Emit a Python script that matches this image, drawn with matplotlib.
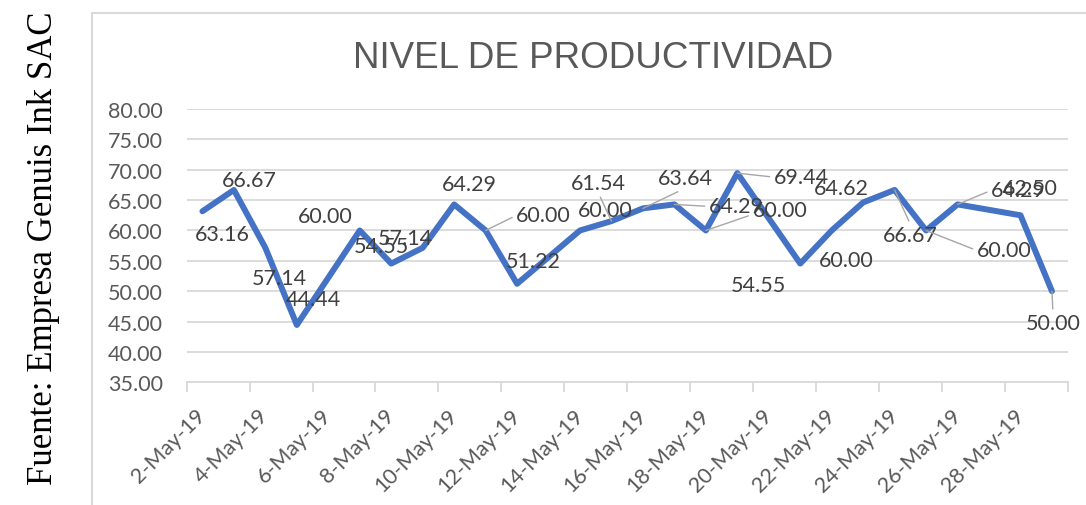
import numpy as np
import pandas as pd
import matplotlib
matplotlib.use("Agg")
import matplotlib.pyplot as plt
from matplotlib.lines import Line2D

# daily productivity, 2-May-19 .. 29-May-19 (blank days are NaN, line connects over them)
dates = pd.date_range("2019-05-02", "2019-05-29", freq="D")
values = [63.16, 66.67, 57.14, 44.44, np.nan, 60.00, 54.55, 57.14,
          64.29, 60.00, 51.22, np.nan, 60.00, 61.54, 63.64, 64.29,
          60.00, 69.44, np.nan, 54.55, 60.00, 64.62, 66.67, 60.00,
          64.29, np.nan, 62.50, 50.00]
tick_labels = [f"{d.day}-May-19" for d in dates]

# where Excel left each data label (offset in pixels from its point) and leader line
label_off = {0: (20, -23), 1: (15, 10), 2: (14, -30), 3: (17, 26),
             5: (-35, 14), 6: (-10, 18), 7: (-17, 10), 8: (15, 20),
             9: (58, 15), 10: (16, 23), 12: (25, 20), 13: (-13, 38),
             14: (42, 30), 15: (62, -2), 16: (74, 20), 17: (64, -4),
             19: (-42, -21), 20: (15, -30), 21: (-22, 14), 22: (16, -45),
             23: (78, -20), 24: (61, 14), 26: (10, 27), 27: (1, -32)}
leaders = {9: (0, 0.5), 13: (0.5, 0), 14: (0.5, 0), 15: (0, 0.5),
           16: (0, 0.3), 17: (0, 0.5), 22: (0.5, 1), 23: (0, 0.5),
           24: (0, 0.5), 27: (0.5, 1)}

blue = "#4472C4"
grey_txt = "#595959"
lab_txt = "#404040"
grid_c = "#D9D9D9"
sans = ["Lato", "DejaVu Sans"]
fs = 15.5

fig = plt.figure(figsize=(10.86, 5.06), dpi=100)
ax = fig.add_axes([186.7 / 1086, 1 - 383.3 / 506, 881 / 1086, 273.3 / 506])

x = np.arange(len(dates))
y = np.array(values, dtype=float)
ok = ~np.isnan(y)
ax.plot(x[ok], y[ok], color=blue, lw=4.3, solid_joinstyle="round",
        solid_capstyle="round", zorder=3)

for i, (dx, dy) in label_off.items():
    kw = {}
    if i in leaders:
        kw["arrowprops"] = dict(arrowstyle="-", color="#A6A6A6", lw=1,
                                shrinkA=1, shrinkB=0, relpos=leaders[i])
    ax.annotate(f"{values[i]:.2f}", (x[i], y[i]), xytext=(dx, dy),
                textcoords="offset pixels", ha="center", va="center",
                fontsize=fs, color=lab_txt, family=sans, zorder=4, **kw)

ax.set_xlim(-0.5, len(dates) - 0.5)
ax.set_ylim(35, 80)
ax.set_yticks(np.arange(35, 81, 5))
ax.set_yticklabels([f"{v:.2f}" for v in np.arange(35, 81, 5)])
ax.yaxis.grid(True, color=grid_c, lw=1.3)
ax.set_axisbelow(True)

ax.set_xticks(x[::2])
ax.set_xticklabels(tick_labels[::2], rotation=45, ha="right", va="center",
                   rotation_mode="anchor")
ax.set_xticks(np.arange(-0.5, len(dates), 2), minor=True)
ax.tick_params(axis="x", which="major", length=0, pad=21)
ax.tick_params(axis="x", which="minor", length=7, color=grid_c, width=1.3)
ax.tick_params(axis="y", length=0, pad=17)
for t in ax.get_xticklabels() + ax.get_yticklabels():
    t.set_color(grey_txt)
    t.set_fontsize(fs)
    t.set_family(sans)

for s in ["top", "right", "left"]:
    ax.spines[s].set_visible(False)
ax.spines["bottom"].set_color(grid_c)
ax.spines["bottom"].set_linewidth(1.3)

fig.text(593 / 1086, 1 - 59 / 506, "NIVEL DE PRODUCTIVIDAD", ha="center",
         va="center", fontsize=26.5, color=grey_txt, family="Liberation Sans")
fig.text(44 / 1086, 1 - 248 / 506, "Fuente: Empresa Genuis Ink SAC",
         rotation=90, ha="center", va="center", fontsize=25, color="black",
         family="Liberation Serif")

# chart-area border (left and top edges visible)
fig.add_artist(Line2D([92 / 1086, 92 / 1086], [0, 1 - 13.5 / 506],
                      color=grid_c, lw=1.5, transform=fig.transFigure))
fig.add_artist(Line2D([92 / 1086, 1], [1 - 13.5 / 506, 1 - 13.5 / 506],
                      color=grid_c, lw=1.5, transform=fig.transFigure))

fig.savefig("out.png", dpi=100)
